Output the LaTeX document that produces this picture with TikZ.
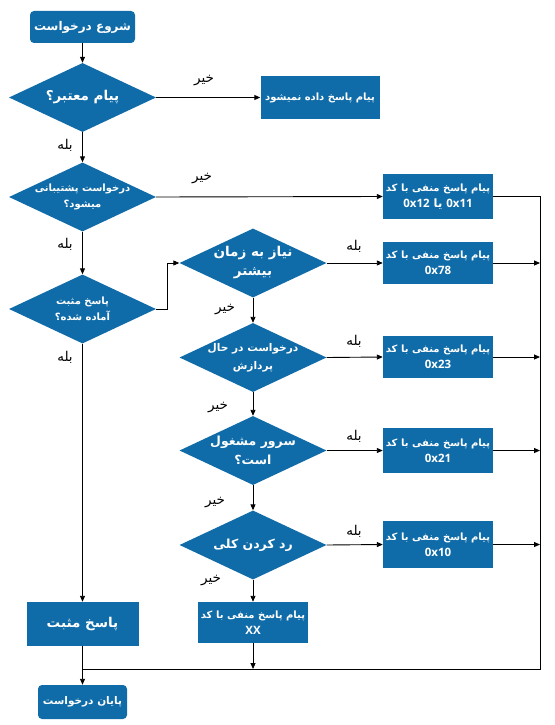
\documentclass[tikz,border=0pt]{standalone}
\usepackage{fontspec}
\newfontfamily\fa[Script=Arabic]{DejaVu Sans}
\newfontfamily\latf{Open Sans}
\TeXXeTstate=1
\usetikzlibrary{shapes.geometric,arrows.meta}
\definecolor{fcblue}{RGB}{16,108,168}
\newcommand{\rl}[1]{\beginR #1\endR}
\newcommand{\lat}[1]{\beginL{\latf\bfseries #1}\endL{}}
\newcommand{\codeline}[1]{{\fontsize{11.5}{15}\selectfont #1}}
\begin{document}
\begin{tikzpicture}[x=1pt,y=-1pt,
 arr/.style={-{Triangle[length=6pt,width=5pt]}, line width=0.9pt},
 ln/.style={line width=0.9pt},
 term/.style={rectangle, rounded corners=4pt, fill=fcblue, text=white, align=center, inner sep=0pt, font=\fa\bfseries\fontsize{12}{15}\selectfont},
 box/.style={rectangle, fill=fcblue, text=white, align=center, inner sep=0pt, minimum width=110pt, font=\fa\bfseries\fontsize{10}{16}\selectfont},
 dia/.style={diamond, fill=fcblue, inner sep=0pt, minimum width=147pt, minimum height=69pt},
 dtxt/.style={text=white, align=center, inner sep=0pt, font=\fa\bfseries\fontsize{10}{16}\selectfont},
 big/.style={font=\fa\bfseries\fontsize{13.5}{19}\selectfont},
 mid/.style={font=\fa\bfseries\fontsize{12.5}{19}\selectfont},
 lab/.style={font=\fa\fontsize{13.5}{15}\selectfont, text=black, inner sep=0pt}]
\fill[white] (0,0) rectangle (554,725);
\useasboundingbox (0,0) rectangle (554,725);

% nodes
\node[term, minimum width=105pt, minimum height=32pt] (start) at (82.5,27) {\rl{شروع درخواست}};
\node[dia] (d1) at (82.5,97.5) {};
\node[dtxt, big] (d1t) at (d1) {\rl{پیام معتبر؟}};
\node[box, minimum width=119pt, minimum height=43pt] (b1) at (320,97.5) {\rl{پیام پاسخ داده نمیشود}};
\node[dia] (d2) at (82.5,197) {};
\node[dtxt] (d2t) at (d2) {\rl{درخواست پشتیبانی}\\\rl{میشود؟}};
\node[box, minimum height=45pt] (b2) at (438,196.5) {\rl{پیام پاسخ منفی با کد}\\\codeline{\rl{\lat{0x11} یا \lat{0x12}}}};
\node[dia] (d3) at (82.5,309) {};
\node[dtxt] (d3t) at (d3) {\rl{پاسخ مثبت}\\\rl{آماده شده؟}};
\node[dia] (d4) at (253,263) {};
\node[dtxt, big] (d4t) at (d4) {\rl{نیاز به زمان}\\\rl{بیشتر}};
\node[box, minimum height=42pt] (b3) at (438,263) {\rl{پیام پاسخ منفی با کد}\\\codeline{\lat{0x78}}};
\node[dia] (d5) at (253,357.5) {};
\node[dtxt, font=\fa\bfseries\fontsize{10.6}{18}\selectfont] (d5t) at (d5) {\rl{درخواست در حال}\\\rl{پردازش}};
\node[box, minimum height=42pt] (b4) at (438,357) {\rl{پیام پاسخ منفی با کد}\\\codeline{\lat{0x23}}};
\node[dia] (d6) at (253,450.5) {};
\node[dtxt, mid] (d6t) at (d6) {\rl{سرور مشغول}\\\rl{است؟}};
\node[box, minimum height=45pt] (b5) at (438,450.5) {\rl{پیام پاسخ منفی با کد}\\\codeline{\lat{0x21}}};
\node[dia] (d7) at (253,545) {};
\node[dtxt, mid] (d7t) at (d7) {\rl{رد کردن کلی}};
\node[box, minimum height=47pt] (b6) at (438,544.5) {\rl{پیام پاسخ منفی با کد}\\\codeline{\lat{0x10}}};
\node[box, minimum height=41pt] (b7) at (253,622.5) {\rl{پیام پاسخ منفی با کد}\\\codeline{\lat{XX}}};
\node[box, big, minimum width=112pt, minimum height=44pt] (pos) at (82.5,624) {\rl{پاسخ مثبت}};
\node[term, minimum width=89pt, minimum height=34pt, font=\fa\bfseries\fontsize{10.5}{14}\selectfont] (end) at (82.5,702) {\rl{پایان درخواست}};

% bus coordinates
\coordinate (bus2) at (540,196.5);
\coordinate (busc) at (540,669);
\coordinate (busl) at (82.5,669);
\coordinate (busm) at (253,669);
\coordinate (k1) at (167,309);
\coordinate (k2) at (167,263);

% connectors
\draw[arr] (start) -- (d1);
\draw[arr] (d1.east) -- (b1.west);
\draw[arr] (d1.south) -- (d2.north);
\draw[arr] (d2.east) -- (b2.west);
\draw[arr] (d2.south) -- (d3.north);
\draw[arr] (d3.east) -- (k1) -- (k2) -- (d4.west);
\draw[arr] (d3.south) -- (pos.north);
\draw[arr] (d4.south) -- (d5.north);
\draw[arr] (d5.south) -- (d6.north);
\draw[arr] (d6.south) -- (d7.north);
\draw[arr] (d7.south) -- (b7.north);
\draw[arr] (d4.east) -- (b3.west);
\draw[arr] (d5.east) -- (b4.west);
\draw[arr] (d6.east) -- (b5.west);
\draw[arr] (d7.east) -- (b6.west);
\draw[ln] (b2.east) -- (bus2) -- (busc) -- (busl);
\draw[arr] (b3.east) -- (b3.east -| busc);
\draw[arr] (b4.east) -- (b4.east -| busc);
\draw[arr] (b5.east) -- (b5.east -| busc);
\draw[arr] (b6.east) -- (b6.east -| busc);
\draw[arr] (b7.south) -- (busm);
\draw[arr] (pos.south) -- (end.north);

% labels
\node[lab] (l1) at (204,81) {\rl{خیر}};
\node[lab] (l2) at (65,145) {\rl{بله}};
\node[lab] (l3) at (202,179) {\rl{خیر}};
\node[lab] (l4) at (65,244) {\rl{بله}};
\node[lab] (l5) at (65,357) {\rl{بله}};
\node[lab] (l6) at (225,310) {\rl{خیر}};
\node[lab] (l7) at (218,408) {\rl{خیر}};
\node[lab] (l8) at (215,503) {\rl{خیر}};
\node[lab] (l9) at (211,581) {\rl{خیر}};
\node[lab] (l10) at (354,246) {\rl{بله}};
\node[lab] (l11) at (354,341) {\rl{بله}};
\node[lab] (l12) at (354,436) {\rl{بله}};
\node[lab] (l13) at (354,531) {\rl{بله}};
\end{tikzpicture}
\end{document}
